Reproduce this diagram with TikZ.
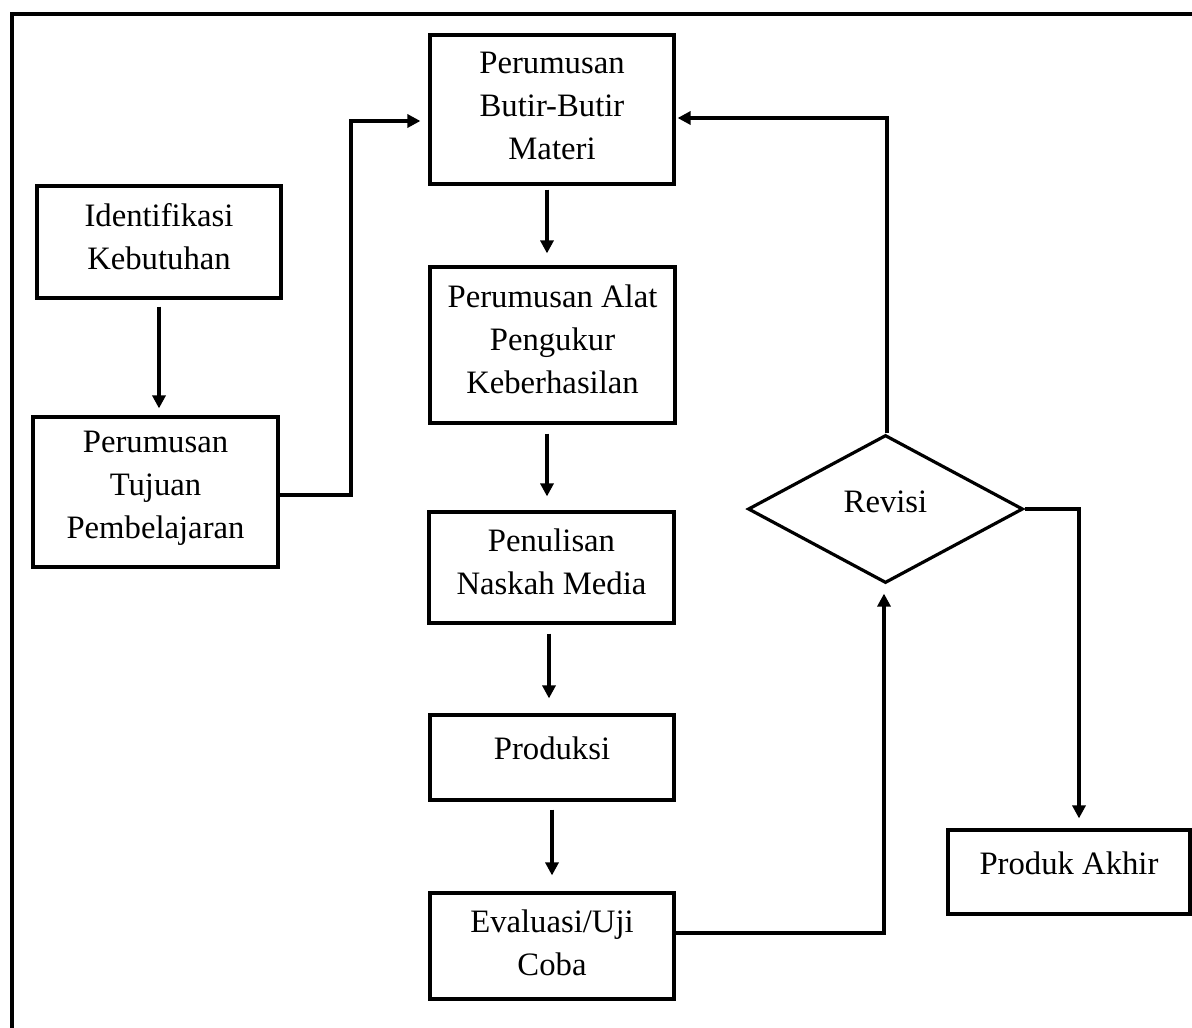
\documentclass[tikz,border=0pt]{standalone}
\usepackage{fontspec}
\setmainfont{Liberation Serif}
\usetikzlibrary{arrows.meta,shapes.geometric}
\begin{document}
\begin{tikzpicture}[x=1pt,y=1pt,
  lw/.style={line width=3.2pt},
  txt/.style={font=\fontsize{32.7}{43}\selectfont, align=center, inner sep=0pt},
  box/.style={draw, lw, rectangle, inner sep=0pt},
  dia/.style={draw, lw, diamond, inner sep=0pt, aspect=1.86},
  arr/.style={lw, -{Triangle[length=13pt,width=13pt]}},
  con/.style={lw}
]
\useasboundingbox (0,0) rectangle (1192,-1028);
% outer frame (partly cut by the page)
\coordinate (fbl) at (12,-1040);
\coordinate (ftl) at (12,-14);
\coordinate (ftr) at (1210,-14);
\draw[lw] (fbl) -- (ftl) -- (ftr);

\node[box, minimum width=244, minimum height=112,
  label={[txt,yshift=5pt]center:{Identifikasi\\Kebutuhan}}] (ident) at (159,-242) {};
\node[box, minimum width=245, minimum height=150,
  label={[txt,yshift=4pt]center:{Perumusan\\Tujuan\\Pembelajaran}}] (tujuan) at (155.5,-492) {};
\node[box, minimum width=244, minimum height=149,
  label={[txt,yshift=4pt]center:{Perumusan\\Butir-Butir\\Materi}}] (butir) at (552,-109.5) {};
\node[box, minimum width=245, minimum height=156,
  label={[txt,yshift=6pt]center:{Perumusan Alat\\Pengukur\\Keberhasilan}}] (alat) at (552.5,-345) {};
\node[box, minimum width=245, minimum height=111,
  label={[txt,yshift=6pt]center:{Penulisan\\Naskah Media}}] (naskah) at (551.5,-567.5) {};
\node[box, minimum width=244, minimum height=85,
  label={[txt,yshift=9pt]center:{Produksi}}] (prod) at (552,-757.5) {};
\node[box, minimum width=244, minimum height=106,
  label={[txt,yshift=3pt]center:{Evaluasi/Uji\\Coba}}] (eval) at (552,-946) {};
\node[dia, minimum width=275, minimum height=148,
  label={[txt,yshift=7pt]center:{Revisi}}] (revisi) at (885.5,-509) {};
\node[box, minimum width=242, minimum height=84,
  label={[txt,yshift=9pt]center:{Produk Akhir}}] (akhir) at (1069,-872) {};

% connectors
\draw[arr, shorten <=7pt, shorten >=7pt] (ident.south) -- (ident.south |- tujuan.north);

\coordinate (j1) at (351,-495);
\draw[arr, shorten >=8pt] ([yshift=-3pt]tujuan.east) -- (j1) |- ([yshift=-11.5pt]butir.west);

\draw[arr, shorten <=4pt, shorten >=12pt] ([xshift=-5pt]butir.south) -- ([xshift=-5pt]butir.south |- alat.north);
\draw[arr, shorten <=9pt, shorten >=14pt] ([xshift=-5.5pt]alat.south) -- ([xshift=-5.5pt]alat.south |- naskah.north);
\draw[arr, shorten <=9pt, shorten >=15pt] ([xshift=-2.5pt]naskah.south) -- ([xshift=-2.5pt]naskah.south |- prod.north);
\draw[arr, shorten <=8pt, shorten >=16pt] (prod.south) -- (prod.south |- eval.north);

\draw[arr, shorten >=9pt] ([yshift=13pt]eval.east) -| ([xshift=-1.5pt]revisi.south);
\draw[arr, shorten >=2pt] ([xshift=1.5pt]revisi.north) |- ([yshift=-8.5pt]butir.east);

\coordinate (c3) at (1079,-509);
\draw[arr, shorten >=10pt] (revisi.east) -- (c3) -- (c3 |- akhir.north);
\end{tikzpicture}
\end{document}
